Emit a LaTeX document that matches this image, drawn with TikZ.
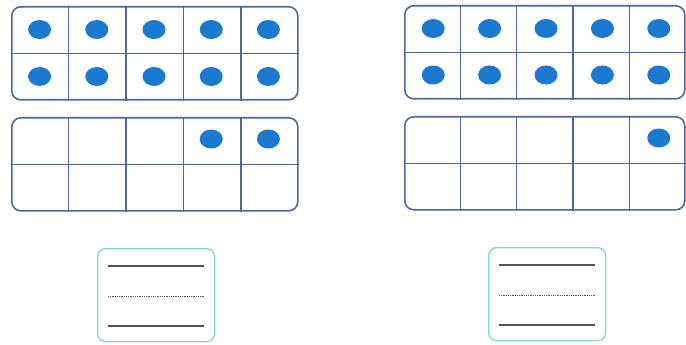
\documentclass[tikz,border=0pt]{standalone}
\usetikzlibrary{calc,shapes.geometric}
\definecolor{ink}{HTML}{4F6898}
\definecolor{dotblue}{HTML}{1B7ACF}
\definecolor{mint}{HTML}{86D2D6}
\definecolor{rule}{HTML}{555555}

\begin{document}
\begin{tikzpicture}[x=1pt,y=-1pt,
  tenframe/.style={draw=ink,line width=1.6pt,rounded corners=9pt,minimum width=#1,minimum height=93pt,anchor=north west,inner sep=0pt},
  grid/.style={draw=ink,line width=1.4pt},
  counter/.style={ellipse,fill=dotblue,minimum width=23pt,minimum height=19pt,inner sep=0pt},
  answer/.style={draw=mint,line width=1.3pt,rounded corners=8pt,minimum width=117pt,minimum height=93pt,anchor=north west,inner sep=0pt},
  write/.style={draw=rule,line width=1.8pt},
  guide/.style={draw=rule,line width=1.3pt,dash pattern=on 0.9pt off 0.9pt}
]
\useasboundingbox (0,0) rectangle (686,345);

% left: ten and two
\node[tenframe=286pt] (tenL) at (11,6) {};
\node[tenframe=286pt] (onesL) at (11,117) {};
% right: ten and one
\node[tenframe=280pt] (tenR) at (404,5) {};
\node[tenframe=280pt] (onesR) at (404,116) {};

\foreach \f in {tenL,onesL,tenR,onesR}{
  \draw[grid] (\f.west) -- (\f.east);
  \foreach \i in {1,...,4}
    \draw[grid] ($(\f.north west)!\i/5!(\f.north east)$) -- ($(\f.south west)!\i/5!(\f.south east)$);
}

\foreach \c in {1,...,5}{
  \node[counter] (tenLa\c) at ({11+57.2*(\c-0.5)},29.5) {};
  \node[counter] (tenLb\c) at ({11+57.2*(\c-0.5)},76.5) {};
  \node[counter] (tenRa\c) at ({405+56.4*(\c-0.5)},28.5) {};
  \node[counter] (tenRb\c) at ({405+56.4*(\c-0.5)},75) {};
}
\node[counter] (onesL4) at ({11+57.2*3.5},139) {};
\node[counter] (onesL5) at ({11+57.2*4.5},139) {};
\node[counter] (onesR5) at ({405+56.4*4.5},138) {};

% answer boxes
\node[answer] (ansL) at (97,248) {};
\node[answer] (ansR) at (488,247) {};
\foreach \b in {ansL,ansR}{
  \draw[write] ($(\b.north west)+(11,18)$) -- ($(\b.north east)+(-11,18)$);
  \draw[guide] ($(\b.west)+(11,1)$) -- ($(\b.east)+(-11,1)$);
  \draw[write] ($(\b.south west)+(11,-16)$) -- ($(\b.south east)+(-11,-16)$);
}
\end{tikzpicture}
\end{document}
